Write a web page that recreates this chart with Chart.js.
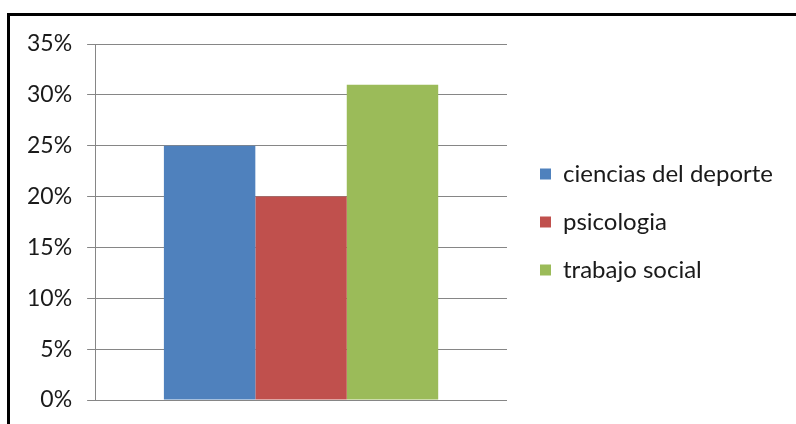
<!DOCTYPE html>
<html>
<head>
<meta charset="utf-8">
<script src="https://cdn.jsdelivr.net/npm/chart.js@4/dist/chart.umd.min.js"></script>
<style>
  html, body { margin: 0; padding: 0; background: #fff; overflow: hidden; }
  #frame { position: absolute; left: 7px; top: 13px; width: 820px; height: 440px;
           border-left: 3px solid #000; border-top: 3px solid #000; box-sizing: border-box; }
  #wrap { position: absolute; left: 0; top: 0; width: 796px; height: 424px; }
</style>
</head>
<body>
<div id="frame"></div>
<div id="wrap"><canvas id="c" width="796" height="424"></canvas></div>
<script>
const categories = [""];
const seriesNames = ["ciencias del deporte", "psicologia", "trabajo social"];
const cienciasDelDeporte = [0.25];
const psicologia = [0.20];
const trabajoSocial = [0.31];
const tickLabels = ["0%", "5%", "10%", "15%", "20%", "25%", "30%", "35%"];
const colors = ["#4F81BD", "#C0504D", "#9BBB59"];

const FONT = "Lato, 'Open Sans', sans-serif";

new Chart(document.getElementById('c'), {
  type: 'bar',
  data: {
    labels: categories,
    datasets: [
      { label: seriesNames[0], data: cienciasDelDeporte, backgroundColor: colors[0] },
      { label: seriesNames[1], data: psicologia, backgroundColor: colors[1] },
      { label: seriesNames[2], data: trabajoSocial, backgroundColor: colors[2] }
    ]
  },
  options: {
    responsive: false,
    animation: false,
    devicePixelRatio: 1,
    layout: { padding: { left: 12, right: 13, top: 44, bottom: 24 } },
    datasets: { bar: { categoryPercentage: 0.666, barPercentage: 1.0 } },
    plugins: {
      tooltip: { enabled: false },
      legend: {
        position: 'right',
        align: 'center',
        maxWidth: 320,
        labels: {
          boxWidth: 11, boxHeight: 11, padding: 24,
          color: '#1a1a1a',
          font: { family: FONT, size: 24 }
        }
      }
    },
    scales: {
      x: {
        display: false
      },
      y: {
        min: 0, max: 0.35,
        ticks: {
          stepSize: 0.05,
          padding: 15,
          color: '#1a1a1a',
          font: { family: FONT, size: 23 },
          callback: (v, i) => tickLabels[i]
        },
        grid: { color: '#868686', lineWidth: 1, tickLength: 8 },
        border: { display: true, color: '#868686', width: 1 },
        afterFit: (s) => { s.paddingTop = 0; s.paddingBottom = 0; }
      },
      gap: {
        type: 'linear',
        position: 'right',
        display: true,
        grid: { display: false, drawTicks: false },
        border: { display: false },
        ticks: { display: false },
        afterFit: (s) => { s.width = 9; }
      }
    }
  }
});
</script>
</body>
</html>
